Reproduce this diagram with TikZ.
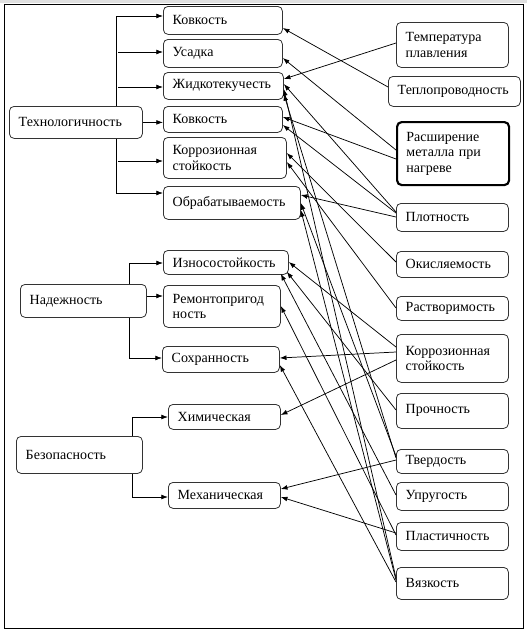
\documentclass[tikz,border=0pt]{standalone}
\usepackage{fontspec}
\setmainfont{Liberation Serif}
\usetikzlibrary{arrows.meta,calc}
\newcommand\bx[7][]{%
  \pgfmathsetmacro\myBW{(#5-#3)*0.75-14}%
  \pgfmathsetmacro\myBH{(#6-#4)*0.75}%
  \node[box,#1,text width=\myBW pt,minimum height=\myBH pt] (#2) at (#3,#4) {#7};}
\begin{document}
\begin{tikzpicture}[x=0.75pt,y=-0.75pt,
  box/.style={draw=black!80, line width=0.6pt, rounded corners=3.5pt, fill=white,
    inner xsep=7pt, inner ysep=1pt, align=left, anchor=north west,
    font=\fontsize{10.5}{11.6}\selectfont},
  arr/.style={-{Latex[length=5pt,width=3.6pt]}, line width=0.55pt},
  thickbox/.style={line width=1.6pt, draw=black}]
\useasboundingbox (0,0) rectangle (527,632);
\fill[black!12] (0,0) rectangle (527,3);
\draw[line width=0.6pt] (4,4) rectangle (523,628);

% left
\bx{tech}{9}{106}{142}{138}{Технологичность}
\bx{nadezh}{20}{284}{146}{317}{Надежность}
\bx{bezop}{16}{436}{142}{473}{Безопасность}
% middle
\bx{kov1}{163}{6}{282}{34}{Ковкость}
\bx{usad}{163}{39}{282}{67}{Усадка}
\bx{zhid}{163}{72}{283}{99}{Жидкотекучесть}
\bx{kov2}{163}{106}{282}{132}{Ковкость}
\bx{korr1}{163}{137}{286}{178}{Коррозионная\\стойкость}
\bx{obrab}{163}{186}{300}{219}{Обрабатываемость}
\bx{izn}{163}{250}{288}{274}{Износостойкость}
\bx{remont}{163}{285}{280}{327}{Ремонтопригод\\ность}
\bx{sohr}{162}{346}{279}{372}{Сохранность}
\bx{him}{168}{404}{280}{429}{Химическая}
\bx{meh}{168}{482}{280}{508}{Механическая}
% right
\bx{temp}{396}{22}{508}{67}{Температура\\плавления}
\bx{teplo}{388}{76}{520}{106}{Теплопроводность}
\bx[thickbox]{rassh}{396}{121}{508}{184}{Расширение\\металла при\\нагреве}
\bx{plotn}{396}{203}{508}{231}{Плотность}
\bx{okisl}{396}{251}{508}{277}{Окисляемость}
\bx{rastv}{396}{296}{508}{320}{Растворимость}
\bx{korr2}{396}{334}{508}{382}{Коррозионная\\стойкость}
\bx{proch}{396}{393}{508}{428}{Прочность}
\bx{tverd}{396}{449}{508}{473}{Твердость}
\bx{uprug}{396}{482}{508}{510}{Упругость}
\bx{plast}{396}{522}{508}{550}{Пластичность}
\bx{vyazk}{396}{567}{508}{599}{Вязкость}

% left tree connectors
\coordinate (tj) at (118,0);
\draw[arr] ([xshift=30.4pt]tech.north) |- (kov1.west |- 0,16);
\draw[arr] (tj |- 0,52) -- (usad.west |- 0,52);
\draw[arr] (tj |- 0,87) -- (zhid.west |- 0,87);
\draw[arr] (tech.east) -- (tech.east -| kov2.west);
\draw[arr] (tj |- 0,161) -- (korr1.west |- 0,161);
\draw[arr] ([xshift=30.4pt]tech.south) |- (obrab.west |- 0,193);

\draw[arr] ([xshift=34.5pt]nadezh.north) |- (izn.west |- 0,263);
\draw[arr] (nadezh.east |- 0,296) -- (remont.west |- 0,296);
\draw[arr] ([xshift=34.5pt]nadezh.south) |- (sohr.west |- 0,358);

\draw[arr] ([xshift=39.75pt]bezop.north) |- (him.west |- 0,417);
\draw[arr] ([xshift=39.75pt]bezop.south) |- (meh.west |- 0,497);

% cross connectors
\draw[arr] (teplo.west |- 0,87) -- (kov1.east |- 0,28);
\draw[arr] (temp.west |- 0,43) -- (zhid.east |- 0,79);
\draw[arr] (rassh.west |- 0,150) -- (usad.east |- 0,58);
\draw[arr] (rassh.west |- 0,159) -- (kov2.east |- 0,117);
\draw[arr] (plotn.west |- 0,212) -- (zhid.east |- 0,84);
\draw[arr] (plotn.west |- 0,213) -- (kov2.east |- 0,125);
\draw[arr] (plotn.west |- 0,217) -- (obrab.east |- 0,195);
\draw[arr] (okisl.west |- 0,262) -- (korr1.east |- 0,153);
\draw[arr] (rastv.west |- 0,308) -- (korr1.east |- 0,162);
\draw[arr] (korr2.west |- 0,347) -- (izn.east |- 0,262);
\draw[arr] (korr2.west |- 0,352) -- (sohr.east |- 0,358);
\draw[arr] (korr2.west |- 0,360) -- (him.east |- 0,415);
\draw[arr] (tverd.west |- 0,460) -- (meh.east |- 0,489);
\draw[arr] (plast.west |- 0,533) -- (meh.east |- 0,497);

\draw[arr] (vyazk.west |- 0,578) -- (zhid.east |- 0,89);
\draw[arr] (tverd.west |- 0,458) -- (zhid.east |- 0,94);
\draw[arr] (tverd.west |- 0,456) -- (obrab.east |- 0,203);
\draw[arr] (vyazk.west |- 0,580) -- (obrab.east |- 0,210);
\draw[arr] (uprug.west |- 0,495) -- ($(izn.south east)+(-8,-1)$);
\draw[arr] (proch.west |- 0,410) -- ($(izn.south east)+(-2,-3)$);
\draw[arr] (plast.west |- 0,535) -- (remont.east |- 0,306);
\draw[arr] (vyazk.west |- 0,582) -- (sohr.east |- 0,365);
\end{tikzpicture}
\end{document}
